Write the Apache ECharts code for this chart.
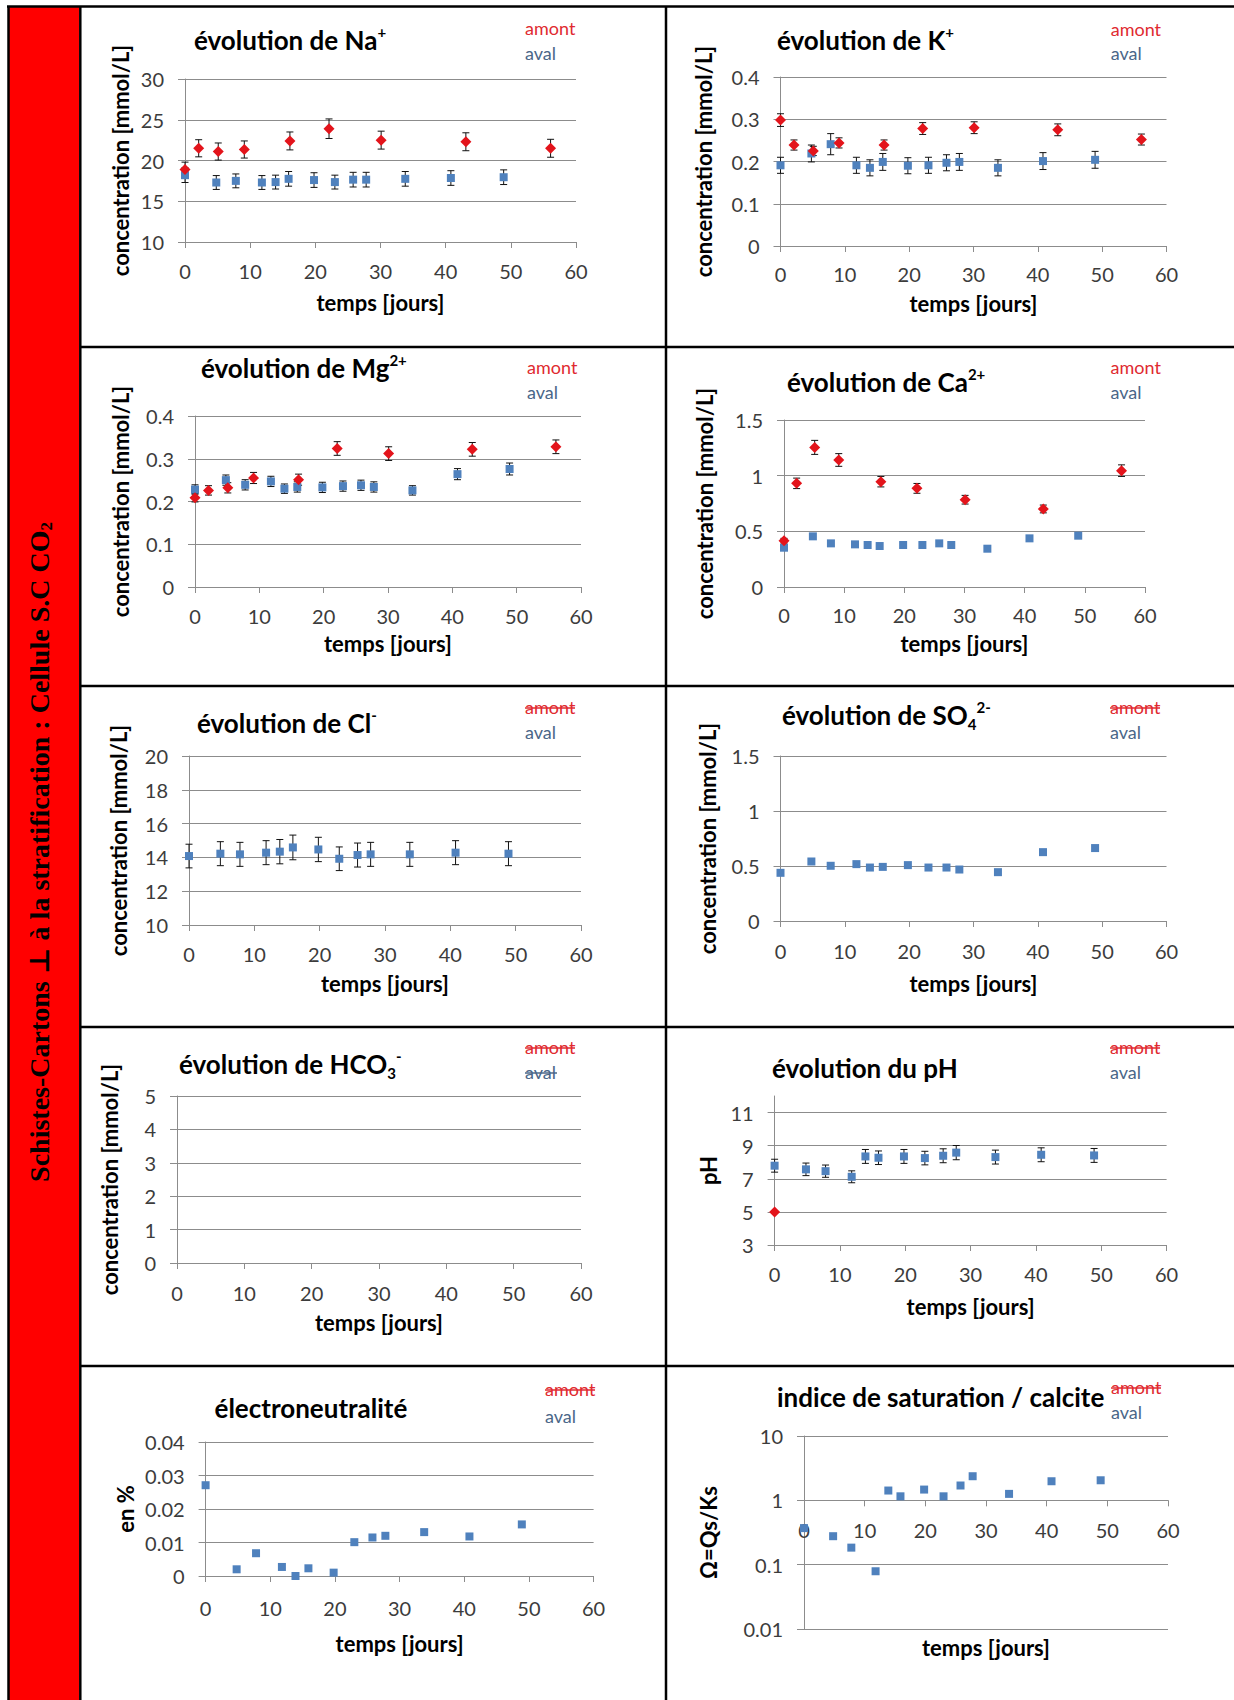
<!DOCTYPE html>
<html><head><meta charset="utf-8">
<script src="https://cdn.jsdelivr.net/npm/echarts@6/dist/echarts.min.js"></script>
<style>html,body{margin:0;padding:0;background:#fff}#c{width:1234px;height:1700px}</style>
</head><body><div id="c"></div>
<script>
// ---------- DATA ----------
const daysAmont = [0, 2.1, 5.1, 9.1, 16.1, 22.1, 30.1, 43.1, 56.1];
const daysAval = [0, 4.8, 7.8, 11.8, 13.9, 15.9, 19.8, 23.0, 25.8, 27.8, 33.8, 40.8, 48.9];
const daysPhAmont = [0];

const naAmont = [18.9, 21.5, 21.1, 21.35, 22.4, 23.9, 22.5, 22.3, 21.5];
const naAmontErr = [0.9, 1.05, 1.05, 1.05, 1.1, 1.2, 1.1, 1.1, 1.1];
const naAval = [18.2, 17.3, 17.5, 17.3, 17.35, 17.75, 17.6, 17.35, 17.65, 17.65, 17.75, 17.85, 17.95];
const naAvalErr = [0.9, 0.85, 0.85, 0.85, 0.85, 0.9, 0.9, 0.85, 0.9, 0.9, 0.9, 0.9, 0.9];

const kAmont = [0.298, 0.239, 0.225, 0.244, 0.239, 0.278, 0.280, 0.275, 0.252];
const kAmontErr = [0.015, 0.012, 0.011, 0.012, 0.012, 0.014, 0.014, 0.014, 0.013];
const kAval = [0.191, 0.219, 0.241, 0.191, 0.185, 0.199, 0.190, 0.191, 0.197, 0.199, 0.185, 0.201, 0.204];
const kAvalErr = [0.019, 0.02, 0.025, 0.019, 0.019, 0.02, 0.019, 0.019, 0.019, 0.02, 0.019, 0.02, 0.02];

const mgAmont = [0.209, 0.226, 0.232, 0.255, 0.251, 0.324, 0.312, 0.322, 0.328];
const mgAmontErr = [0.01, 0.011, 0.012, 0.013, 0.013, 0.016, 0.016, 0.016, 0.016];
const mgAval = [0.228, 0.250, 0.239, 0.247, 0.230, 0.234, 0.233, 0.236, 0.238, 0.234, 0.226, 0.264, 0.276];
const mgAvalErr = [0.011, 0.012, 0.012, 0.012, 0.011, 0.012, 0.012, 0.012, 0.012, 0.012, 0.011, 0.013, 0.014];

const caAmont = [0.416, 0.931, 1.254, 1.141, 0.946, 0.886, 0.784, 0.701, 1.045];
const caAmontErr = [0.021, 0.047, 0.063, 0.057, 0.047, 0.044, 0.039, 0.035, 0.052];
const caAval = [0.353, 0.455, 0.392, 0.383, 0.377, 0.368, 0.377, 0.377, 0.392, 0.377, 0.344, 0.437, 0.461];

const clAval = [14.08, 14.22, 14.18, 14.28, 14.34, 14.59, 14.47, 13.92, 14.14, 14.18, 14.18, 14.28, 14.22];
const clAvalErr = [0.7, 0.71, 0.71, 0.71, 0.72, 0.73, 0.72, 0.7, 0.71, 0.71, 0.71, 0.71, 0.71];

const so4Aval = [0.438, 0.541, 0.502, 0.517, 0.486, 0.492, 0.508, 0.486, 0.486, 0.468, 0.444, 0.626, 0.663];

const phAmont = [5.0];
const phAval = [7.79, 7.57, 7.46, 7.12, 8.35, 8.27, 8.35, 8.25, 8.39, 8.58, 8.31, 8.45, 8.41];
const phAvalErr = [0.39, 0.38, 0.37, 0.36, 0.42, 0.41, 0.42, 0.41, 0.42, 0.43, 0.42, 0.42, 0.42];

const enAval = [0.0271, 0.0020, 0.0068, 0.0027, 0.0000, 0.0023, 0.0010, 0.0101, 0.0115, 0.0120, 0.0131, 0.0118, 0.0154];

const satAval = [0.37, 0.277, 0.184, 0.079, 1.42, 1.155, 1.47, 1.155, 1.70, 2.37, 1.26, 1.98, 2.05];

const xRange = [0, 60, 10];
const yRanges = [[10, 30, 5], [0, 0.4, 0.1], [0, 0.4, 0.1], [0, 1.5, 0.5], [10, 20, 2],
                 [0, 1.5, 0.5], [0, 5, 1], [3, 12, 2], [0, 0.04, 0.01], [0.01, 10, null]];

const titles = [
  [['évolution de Na', 'm'], ['+', 'p']],
  [['évolution de K', 'm'], ['+', 'p']],
  [['évolution de Mg', 'm'], ['2+', 'p']],
  [['évolution de Ca', 'm'], ['2+', 'p']],
  [['évolution de Cl', 'm'], ['-', 'p']],
  [['évolution de SO', 'm'], ['4', 'b'], ['2-', 'p']],
  [['évolution de HCO', 'm'], ['3', 'b'], ['-', 'p']],
  [['évolution du pH', 'm']],
  [['électroneutralité', 'm']],
  [['indice de saturation / calcite', 'm']]
];
const yNames = ['concentration [mmol/L]', 'concentration [mmol/L]', 'concentration [mmol/L]',
  'concentration [mmol/L]', 'concentration [mmol/L]', 'concentration [mmol/L]',
  'concentration [mmol/L]', 'pH', 'en %', 'Ω=Qs/Ks'];
const xName = 'temps [jours]';
const legendNames = ['amont', 'aval'];
const sideTitle = ['Schistes-Cartons ⊥ à la stratification : Cellule S.C CO', '2'];

// series per panel: [amont values, amont err, aval values, aval err]
const panelSeries = [
  [naAmont, naAmontErr, naAval, naAvalErr],
  [kAmont, kAmontErr, kAval, kAvalErr],
  [mgAmont, mgAmontErr, mgAval, mgAvalErr],
  [caAmont, caAmontErr, caAval, null],
  [null, null, clAval, clAvalErr],
  [null, null, so4Aval, null],
  [null, null, null, null],
  [phAmont, null, phAval, phAvalErr],
  [null, null, enAval, null],
  [null, null, satAval, null]
];
// which legend words are struck through
const struck = [[0,0],[0,0],[0,0],[0,0],[1,0],[1,0],[1,1],[1,0],[1,0],[1,0]];

// ---------- LAYOUT (pixels) ----------
const layout = [
  {g:[185,79,391,163],    t:[194,40],    l:[525,28,53],     yg:54, xg:49, xm:19},
  {g:[780.5,77,386,169],  t:[777,40],    l:[1110.7,29,53],  yg:66, xg:46, xm:18},
  {g:[195,416,386,171],   t:[201,368],   l:[527,367,392],   yg:64, xg:45, xm:19},
  {g:[784,420,361,167],   t:[787,382],   l:[1110.5,367,392],yg:69, xg:45, xm:18},
  {g:[189,756,392,169],   t:[197,723],   l:[525,707,732],   yg:60, xg:47, xm:19},
  {g:[780.5,756,386,165], t:[782,715],   l:[1110,707,732],  yg:62, xg:51, xm:20},
  {g:[177,1096,404,167],  t:[179,1064],  l:[525,1047,1072], yg:57, xg:48, xm:20},
  {g:[774.6,1096,392,149],t:[772,1068],  l:[1110,1047,1072],yg:55, xg:50, xm:19},
  {g:[205.6,1442,388,134],t:[214.5,1408],l:[545,1389,1416], yg:69, xg:56, xm:22},
  {g:[804,1436,364,193],  t:[777,1397],  l:[1111,1387,1412],yg:85, xg:10, xm:20}
];

const RED = '#E3141B', BLUE = '#4F81BD';
const LEG_RED = '#E02A30', LEG_BLUE = '#4A6688';
const TXT = '#3c3c3c', GRIDC = '#8c8c8c';
const FONT = 'Lato, "Open Sans", sans-serif';

function errItem(params, api) {
  const x = api.value(0), y = api.value(1), e = api.value(2);
  const p1 = api.coord([x, y + e]), p2 = api.coord([x, y - e]);
  const w = 3.5, st = {stroke: '#111', lineWidth: 1};
  return {type: 'group', children: [
    {type: 'line', shape: {x1: p1[0], y1: p1[1], x2: p2[0], y2: p2[1]}, style: st},
    {type: 'line', shape: {x1: p1[0] - w, y1: p1[1], x2: p1[0] + w, y2: p1[1]}, style: st},
    {type: 'line', shape: {x1: p2[0] - w, y1: p2[1], x2: p2[0] + w, y2: p2[1]}, style: st}
  ]};
}

const grids = [], xAxes = [], yAxes = [], series = [], titleComps = [];
const graphics = [];

// borders & side bar
graphics.push({type: 'rect', shape: {x: 9, y: 7, width: 70, height: 1693}, style: {fill: '#FF0000'}, z: 0});
const lineSt = {stroke: '#000', lineWidth: 2.5};
graphics.push({type: 'line', shape: {x1: 8.5, y1: 6, x2: 8.5, y2: 1700}, style: lineSt});
graphics.push({type: 'line', shape: {x1: 7, y1: 6.5, x2: 1234, y2: 6.5}, style: lineSt});
graphics.push({type: 'line', shape: {x1: 80.3, y1: 6, x2: 80.3, y2: 1700}, style: lineSt});
graphics.push({type: 'line', shape: {x1: 666, y1: 6, x2: 666, y2: 1700}, style: lineSt});
[347, 686, 1027, 1366].forEach(y => graphics.push({type: 'line', shape: {x1: 80, y1: y, x2: 1234, y2: y}, style: lineSt}));
graphics.push({
  type: 'text', x: 39, y: 852, rotation: Math.PI / 2, z: 10,
  style: {
    text: '{a|' + sideTitle[0] + '}{b|' + sideTitle[1] + '}',
    align: 'center', verticalAlign: 'middle',
    rich: {
      a: {fontFamily: '"Liberation Serif", "DejaVu Serif", serif', fontWeight: 'bold', fontSize: 28, fill: '#000', lineHeight: 32},
      b: {fontFamily: '"Liberation Serif", "DejaVu Serif", serif', fontWeight: 'bold', fontSize: 17, fill: '#000', verticalAlign: 'bottom', lineHeight: 22}
    }
  }
});

layout.forEach((L, i) => {
  const [gl, gt, gw, gh] = L.g;
  grids.push({left: gl, top: gt, width: gw, height: gh, containLabel: false, outerBoundsMode: 'none'});
  const yr = yRanges[i];
  const isLog = i === 9;
  xAxes.push({
    gridIndex: i, type: 'value', min: xRange[0], max: xRange[1], interval: xRange[2],
    name: xName, nameLocation: 'middle', nameGap: L.xg,
    nameTextStyle: {fontFamily: FONT, fontWeight: 'bold', fontSize: 22, color: '#000'},
    axisLine: {show: true, onZero: !isLog, lineStyle: {color: GRIDC, width: 1}},
    axisTick: {show: true, length: 6, lineStyle: {color: GRIDC}},
    axisLabel: {fontFamily: FONT, fontSize: 20, color: TXT, margin: L.xm},
    splitLine: {show: false}
  });
  const y = {
    gridIndex: i, type: isLog ? 'log' : 'value', min: yr[0], max: yr[1],
    name: yNames[i], nameLocation: 'middle', nameGap: L.yg,
    nameTextStyle: {fontFamily: FONT, fontWeight: 'bold', fontSize: 22, color: '#000'},
    axisLine: {show: true, onZero: false, lineStyle: {color: GRIDC, width: 1}},
    axisTick: {show: true, length: 7, lineStyle: {color: GRIDC}},
    axisLabel: {fontFamily: FONT, fontSize: 20, color: TXT, margin: 21},
    splitLine: {show: true, lineStyle: {color: GRIDC, width: 1}}
  };
  if (isLog) y.logBase = 10; else y.interval = yr[2];
  if (i === 7) { y.axisLabel.showMaxLabel = false; y.splitLine.showMaxLine = false; }
  yAxes.push(y);

  // title
  const rich = {
    m: {fontFamily: FONT, fontWeight: 'bold', fontSize: 26, color: '#000', lineHeight: 32},
    p: {fontFamily: FONT, fontWeight: 'bold', fontSize: 15, color: '#000', verticalAlign: 'top', lineHeight: 18},
    b: {fontFamily: FONT, fontWeight: 'bold', fontSize: 15, color: '#000', verticalAlign: 'bottom', lineHeight: 18}
  };
  titleComps.push({
    left: L.t[0], top: L.t[1] - 16, padding: 0,
    text: titles[i].map(([s, k]) => '{' + k + '|' + s + '}').join(''),
    textStyle: {rich: rich}
  });

  // legend words
  const cols = [LEG_RED, LEG_BLUE], widths = [50, 32];
  [0, 1].forEach(k => {
    const cy = L.l[1 + k];
    graphics.push({type: 'text', x: L.l[0], y: cy, z: 10,
      style: {text: legendNames[k], fill: cols[k], fontFamily: FONT, fontSize: 18, verticalAlign: 'middle', align: 'left'}});
    if (struck[i][k]) {
      graphics.push({type: 'line', z: 11, shape: {x1: L.l[0], y1: cy + 1, x2: L.l[0] + widths[k], y2: cy + 1},
        style: {stroke: cols[k], lineWidth: 1.5}});
    }
  });

  // series
  const [am, amE, av, avE] = panelSeries[i];
  const dAm = i === 7 ? daysPhAmont : daysAmont;
  if (amE) series.push({type: 'custom', name: 'amont', xAxisIndex: i, yAxisIndex: i, z: 3,
    renderItem: errItem, encode: {x: 0, y: 1}, data: dAm.map((d, k) => [d, am[k], amE[k]])});
  if (avE) series.push({type: 'custom', name: 'aval', xAxisIndex: i, yAxisIndex: i, z: 3,
    renderItem: errItem, encode: {x: 0, y: 1}, data: daysAval.map((d, k) => [d, av[k], avE[k]])});
  if (av) series.push({type: 'scatter', name: 'aval', xAxisIndex: i, yAxisIndex: i, z: 4, clip: false,
    symbol: 'rect', symbolSize: 8, itemStyle: {color: BLUE, opacity: 1},
    data: daysAval.map((d, k) => [d, av[k]])});
  if (am) series.push({type: 'scatter', name: 'amont', xAxisIndex: i, yAxisIndex: i, z: 5, clip: false,
    symbol: 'diamond', symbolSize: 11, itemStyle: {color: RED, opacity: 1},
    data: dAm.map((d, k) => [d, am[k]])});
});

const option = {
  animation: false,
  backgroundColor: '#ffffff',
  title: titleComps,
  grid: grids, xAxis: xAxes, yAxis: yAxes, series: series,
  graphic: {elements: graphics}
};

const chart = echarts.init(document.getElementById('c'), null, {renderer: 'svg'});
chart.setOption(option);
// place the saturation x axis where the log axis passes 1
const py = chart.convertToPixel({yAxisIndex: 9}, 1);
const gBottom = layout[9].g[1] + layout[9].g[3];
xAxes[9].offset = py - gBottom;
xAxes[9].nameGap = gBottom + 7 - py;
chart.setOption({xAxis: xAxes});
</script></body></html>
